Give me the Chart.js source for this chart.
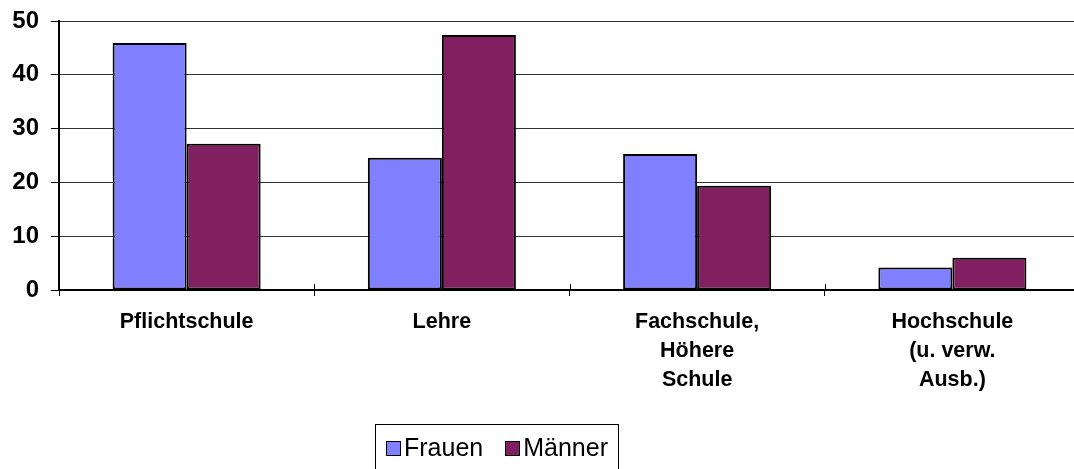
<!DOCTYPE html>
<html>
<head>
<meta charset="utf-8">
<script src="https://cdn.jsdelivr.net/npm/chart.js@4.4.1/dist/chart.umd.min.js"></script>
<style>
  html,body{margin:0;padding:0;background:#fff;}
  #wrap{position:relative;width:1074px;height:469px;overflow:hidden;}
  #legend{position:absolute;left:375px;top:424px;width:244px;height:52px;border:1px solid #000;box-sizing:border-box;
    font:25px 'Liberation Sans',Arial,sans-serif;color:#000;display:flex;align-items:flex-start;padding:9px 0 0 10px;}
  #legend span.sq{display:inline-block;width:13px;height:13px;border:1px solid #000;margin:7px 3px 0 0;flex:none;}
  #legend .item{display:flex;align-items:flex-start;margin-right:22px;line-height:26px;white-space:nowrap;}
</style>
</head>
<body>
<div id="wrap">
  <!-- canvas a bit wider than the window: the plot runs off the right edge like the original -->
  <canvas id="c" width="1080" height="469"></canvas>
  <div id="legend"></div>
</div>
<script>
// categories + series
const categories = ['Pflichtschule', 'Lehre', ['Fachschule,', 'Höhere', 'Schule'], ['Hochschule', '(u. verw.', 'Ausb.)']];
const seriesNames = ['Frauen', 'Männer'];
const frauen = [45.9, 24.6, 25.3, 4.2];
const maenner = [27.2, 47.4, 19.4, 6.0];
const yTicks = [0, 10, 20, 30, 40, 50];
const colors = ['#8080ff', '#802060'];

const FONT = "'Liberation Sans', Arial, sans-serif";

// small plugin: upper half of the category ticks (they cross the axis)
const crossTicks = {
  id: 'crossTicks',
  afterDraw(chart){
    const ctx = chart.ctx, xs = chart.scales.x, y0 = chart.scales.y.getPixelForValue(0);
    ctx.save(); ctx.strokeStyle = '#000'; ctx.lineWidth = 1;
    for(let i=0;i<=categories.length;i++){
      const x = Math.round(xs.getPixelForValue(i-0.5))+0.5;
      ctx.beginPath(); ctx.moveTo(x, y0-6); ctx.lineTo(x, y0); ctx.stroke();
    }
    ctx.restore();
  }
};

new Chart(document.getElementById('c'), {
  type: 'bar',
  plugins: [crossTicks],
  data: {
    labels: categories,
    datasets: [
      {label: seriesNames[0], data: frauen, backgroundColor: colors[0], borderColor: '#000', borderWidth: 2, borderSkipped: false},
      {label: seriesNames[1], data: maenner, backgroundColor: colors[1], borderColor: '#000', borderWidth: 2, borderSkipped: false}
    ]
  },
  options: {
    responsive: false, animation: false,
    layout: {padding: {top: 21, right: 0, left: 0, bottom: 0}},
    plugins: {legend: {display: false}, tooltip: {enabled: false}},
    datasets: {bar: {categoryPercentage: 0.58, barPercentage: 1}},
    scales: {
      x: {
        afterFit: s => { s.height = 179; s.paddingLeft = 0; s.paddingRight = 0; },
        grid: {offset: true, drawOnChartArea: false, tickLength: 6, color: '#000', lineWidth: 1},
        border: {display: true, color: '#000', width: 2},
        ticks: {color: '#000', font: {family: FONT, size: 21.5, weight: 'bold', lineHeight: 1.36}, padding: 11, maxRotation: 0, autoSkip: false}
      },
      y: {
        min: 0, max: 50,
        afterFit: s => { s.width = 59; s.paddingTop = 0; s.paddingBottom = 0; },
        afterBuildTicks: s => { s.ticks = yTicks.map(v => ({value: v})); },
        grid: {color: '#333', lineWidth: 1, tickLength: 8, tickColor: '#000'},
        border: {display: true, color: '#000', width: 2},
        ticks: {color: '#000', font: {family: FONT, size: 24, weight: 'bold'}, padding: 12}
      }
    }
  }
});

// legend (boxed, under the chart)
document.getElementById('legend').innerHTML = seriesNames.map((n,i) =>
  `<div class="item"><span class="sq" style="background:${colors[i]}"></span>${n}</div>`).join('');
</script>
</body>
</html>
